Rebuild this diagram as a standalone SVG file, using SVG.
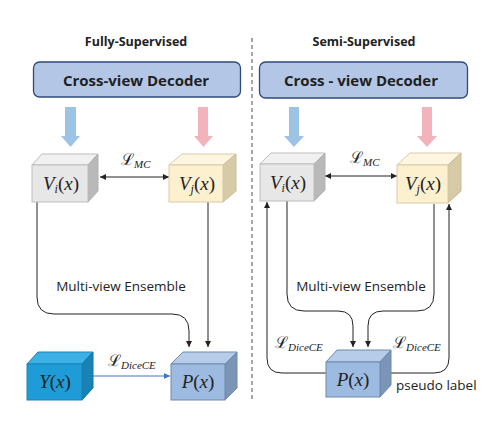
<svg xmlns="http://www.w3.org/2000/svg" width="504" height="427" viewBox="0 0 504 427">
<defs>
<marker id="ah" viewBox="0 0 10 10" refX="10" refY="5" markerWidth="6" markerHeight="6" orient="auto-start-reverse" markerUnits="userSpaceOnUse"><path d="M0,0 L10,5 L0,10 z" fill="#222"/></marker>
<marker id="ahb" viewBox="0 0 10 10" refX="10" refY="5" markerWidth="6" markerHeight="6" orient="auto" markerUnits="userSpaceOnUse"><path d="M0,0 L10,5 L0,10 z" fill="#4472c4"/></marker>
<style>
.title{font-family:"Open Sans","Liberation Sans",sans-serif;font-weight:bold;font-size:12.5px;fill:#222;text-anchor:middle}
.dec{fill:#b4c6e6;stroke:#2f4a7c;stroke-width:1.3}
.dect{font-family:"Open Sans","Liberation Sans",sans-serif;font-weight:bold;font-size:15px;fill:#1f1f1f;text-anchor:middle}
.lbl{font-family:"Open Sans","Liberation Sans",sans-serif;font-size:13.5px;fill:#222}
.math{font-family:"Liberation Serif","DejaVu Serif",serif;font-style:italic;font-size:19px;fill:#222;text-anchor:middle}
.lm{font-family:"Liberation Serif","DejaVu Serif",serif;font-size:16px;fill:#222}
.sub{font-size:11px;font-style:italic}
.ln{fill:none;stroke:#222;stroke-width:1}
.gF{fill:#e7e7e7;stroke:#bdbdbd}.gT{fill:#f1f1f1;stroke:#bdbdbd}.gS{fill:#b9b9b9;stroke:#b0b0b0}
.yF{fill:#fdf0cf;stroke:#d8cba6}.yT{fill:#fef6e0;stroke:#d8cba6}.yS{fill:#d7caa6;stroke:#cbbd98}
.bF{fill:#1f9cd8;stroke:#1a84b8}.bT{fill:#3db0e5;stroke:#1a84b8}.bS{fill:#1682b6;stroke:#14729f}
.pF{fill:#9dbbe1;stroke:#6f89ad}.pT{fill:#b6cce9;stroke:#6f89ad}.pS{fill:#7b95b6;stroke:#6f89ad}
</style>
</defs>
<rect width="504" height="427" fill="#fff"/>

<!-- divider -->
<line x1="252" y1="38" x2="252" y2="400" stroke="#777" stroke-width="1.3" stroke-dasharray="4,3"/>

<text class="title" x="136" y="46">Fully-Supervised</text>
<text class="title" x="364" y="46">Semi-Supervised</text>

<g id="decoder-left">
<rect class="dec" x="33.5" y="62" width="207" height="35" rx="6"/>
<text class="dect" x="136" y="86">Cross-view Decoder</text>
</g>
<g id="decoder-right">
<rect class="dec" x="259.5" y="62" width="208" height="36" rx="6"/>
<text class="dect" x="361" y="86">Cross - view Decoder</text>
</g>

<g id="block-arrows">
<path d="M65,107 H76 V136 H80 L70.5,147 L61,136 H65 Z" fill="#9dc3e6"/>
<path d="M198,107 H208 V136 H213 L203.5,147 L194,136 H198 Z" fill="#f2b3bd"/>
<path d="M289,107 H299 V136 H304 L294,147 L284,136 H289 Z" fill="#9dc3e6"/>
<path d="M422,107 H432 V136 H437 L427,147 L417,136 H422 Z" fill="#f2b3bd"/>
</g>

<g id="connectors">
<!-- left panel -->
<line class="ln" x1="100" y1="177" x2="169" y2="177" marker-start="url(#ah)" marker-end="url(#ah)"/>
<path class="ln" d="M37,202 V297 Q37,314 54,314 H172 Q189,314 189,331 V347" marker-end="url(#ah)"/>
<line class="ln" x1="208" y1="202" x2="208" y2="347" marker-end="url(#ah)"/>
<line x1="93" y1="376" x2="170" y2="376" stroke="#4472c4" stroke-width="1.2" marker-end="url(#ahb)"/>
<!-- right panel -->
<line class="ln" x1="325" y1="176" x2="397" y2="176" marker-start="url(#ah)" marker-end="url(#ah)"/>
<path class="ln" d="M326,373 H282 Q267,373 267,358 V202" marker-end="url(#ah)"/>
<path class="ln" d="M391,373 H434 Q449,373 449,358 V204" marker-end="url(#ah)"/>
<path class="ln" d="M287,201 V294 Q287,311 304,311 H338 Q353,311 353,326 V347" marker-end="url(#ah)"/>
<path class="ln" d="M434,204 V294 Q434,311 417,311 H383 Q368,311 368,326 V347" marker-end="url(#ah)"/>
</g>

<g id="labels">
<text class="lm" x="121" y="165">ℒ<tspan class="sub" dy="3">MC</tspan></text>
<text class="lm" x="350" y="163">ℒ<tspan class="sub" dy="3">MC</tspan></text>
<text class="lbl" x="121" y="291" text-anchor="middle">Multi-view Ensemble</text>
<text class="lbl" x="361" y="291" text-anchor="middle">Multi-view Ensemble</text>
<text class="lm" x="108" y="366">ℒ<tspan class="sub" dy="3">DiceCE</tspan></text>
<text class="lm" x="275" y="348">ℒ<tspan class="sub" dy="3">DiceCE</tspan></text>
<text class="lm" x="393" y="348">ℒ<tspan class="sub" dy="3">DiceCE</tspan></text>
<text class="lbl" x="396" y="390" font-size="14">pseudo label</text>
</g>

<g id="Vi-left">
<path class="gT" d="M32,165 L42,154 H98 L88,165 Z"/>
<path class="gS" d="M88,165 L98,154 V191 L88,202 Z"/>
<rect class="gF" x="32" y="165" width="56" height="37"/>
<text class="math" x="61" y="190">V<tspan font-size="12" dy="3">i</tspan><tspan dy="-3" font-style="normal">(</tspan>x<tspan font-style="normal">)</tspan></text>
</g>
<g id="Vj-left">
<path class="yT" d="M169,165 L182,154 H236 L223,165 Z"/>
<path class="yS" d="M223,165 L236,154 V191 L223,202 Z"/>
<rect class="yF" x="169" y="165" width="54" height="37"/>
<text class="math" x="197" y="190">V<tspan font-size="12" dy="3">j</tspan><tspan dy="-3" font-style="normal">(</tspan>x<tspan font-style="normal">)</tspan></text>
</g>
<g id="Y-left">
<path class="bT" d="M27,364 L38,352 H93 L82,364 Z"/>
<path class="bS" d="M82,364 L93,352 V388 L82,400 Z"/>
<rect class="bF" x="27" y="364" width="55" height="36"/>
<text class="math" x="55" y="388">Y<tspan font-style="normal">(</tspan>x<tspan font-style="normal">)</tspan></text>
</g>
<g id="P-left">
<path class="pT" d="M171,364 L183,352 H237 L225,364 Z"/>
<path class="pS" d="M225,364 L237,352 V388 L225,400 Z"/>
<rect class="pF" x="171" y="364" width="54" height="36"/>
<text class="math" x="198" y="388">P<tspan font-style="normal">(</tspan>x<tspan font-style="normal">)</tspan></text>
</g>

<g id="Vi-right">
<path class="gT" d="M260,164 L271,153 H325 L314,164 Z"/>
<path class="gS" d="M314,164 L325,153 V190 L314,201 Z"/>
<rect class="gF" x="260" y="164" width="54" height="37"/>
<text class="math" x="288" y="189">V<tspan font-size="12" dy="3">i</tspan><tspan dy="-3" font-style="normal">(</tspan>x<tspan font-style="normal">)</tspan></text>
</g>
<g id="Vj-right">
<path class="yT" d="M397,165 L410,153 H461 L448,165 Z"/>
<path class="yS" d="M448,165 L461,153 V191 L448,203 Z"/>
<rect class="yF" x="397" y="165" width="51" height="38"/>
<text class="math" x="423" y="190">V<tspan font-size="12" dy="3">j</tspan><tspan dy="-3" font-style="normal">(</tspan>x<tspan font-style="normal">)</tspan></text>
</g>
<g id="P-right">
<path class="pT" d="M326,362 L337,350 H391 L380,362 Z"/>
<path class="pS" d="M380,362 L391,350 V385 L380,397 Z"/>
<rect class="pF" x="326" y="362" width="54" height="35"/>
<text class="math" x="353" y="386">P<tspan font-style="normal">(</tspan>x<tspan font-style="normal">)</tspan></text>
</g>
</svg>
